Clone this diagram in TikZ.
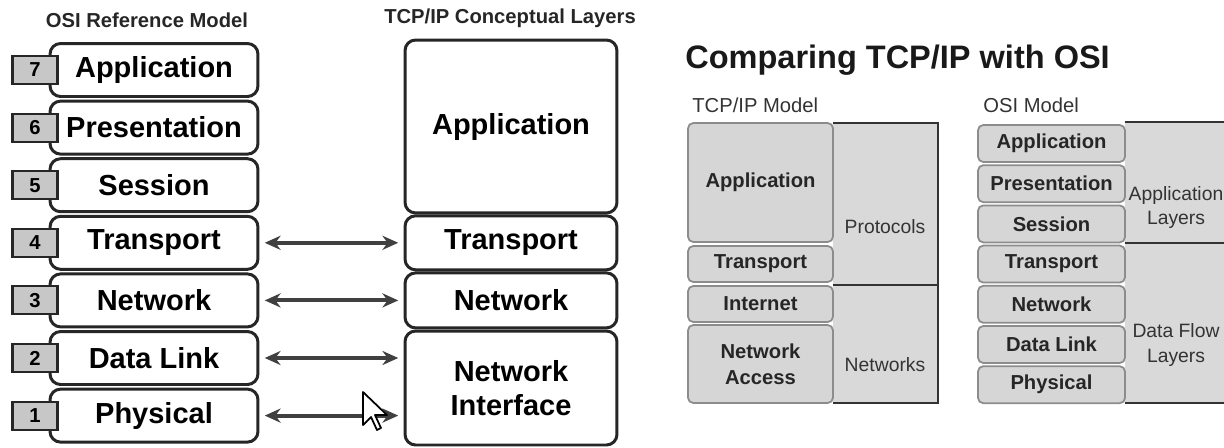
\documentclass[tikz,border=0pt]{standalone}
\usepackage{fontspec}
\setmainfont{Liberation Sans}
\usepackage{tikz}
\usetikzlibrary{shapes}
\usetikzlibrary{arrows.meta}
\usetikzlibrary{positioning}

\begin{document}
\begin{tikzpicture}[x=0.02cm,y=-0.02cm]
			\tikzset{osibox/.style = {shape=rectangle,draw=black!85,fill=white,line width=1.7pt,
					rounded corners=6pt,minimum width=4.16cm,minimum height=1.06cm,
					inner sep=0pt,align=center,font=\fontsize{16.5}{19}\selectfont\bfseries}}
			\tikzset{tcpbox/.style = {osibox,minimum width=4.24cm}}
			\tikzset{numbox/.style = {shape=rectangle,draw=black!85,fill=black!22,line width=1.2pt,
					minimum width=0.9cm,minimum height=0.56cm,inner sep=0pt,
					font=\fontsize{11.5}{13}\selectfont\bfseries}}
			\tikzset{title/.style = {font=\fontsize{11.5}{13}\selectfont\bfseries,text=black!85}}
			\tikzset{arr/.style = {<->,>={Stealth[length=9pt,width=8pt]},line width=2.2pt,draw=black!75,
					shorten <=3pt,shorten >=3pt}}
			\tikzset{tbox/.style = {shape=rectangle,rounded corners=3pt,fill=black!16,draw=black!45,
					line width=1pt,minimum width=2.9cm,inner sep=0pt,align=center,text=black!85,
					font=\fontsize{11.5}{15}\selectfont\bfseries}}
			\tikzset{obox/.style = {tbox,minimum width=2.94cm,minimum height=0.74cm}}
			\tikzset{colbox/.style = {shape=rectangle,fill=black!15,draw=none,inner sep=0pt}}
			\tikzset{coltext/.style = {align=center,text=black!80,font=\fontsize{11}{14}\selectfont}}
			\tikzset{frame/.style = {line width=1.2pt,draw=black!80}}
			
			\clip (0,0) rectangle (1224,447);
			
			% OSI reference model
			\node[title] (osititle) at (147,20) {OSI Reference Model};
			\node[osibox] (osi7) at  (154,70) {Application};
			\node[osibox] (osi6) at  (154,127.6) {Presentation};
			\node[osibox] (osi5) at  (154,185.2) {Session};
			\node[osibox] (osi4) at  (154,242.8) {Transport};
			\node[osibox] (osi3) at  (154,300.4) {Network};
			\node[osibox] (osi2) at  (154,358) {Data Link};
			\node[osibox] (osi1) at  (154,415.6) {Physical};
			
			\node[numbox] (n7) at (35,70) {7};
			\node[numbox] (n6) at (35,127.6) {6};
			\node[numbox] (n5) at (35,185.2) {5};
			\node[numbox] (n4) at (35,242.8) {4};
			\node[numbox] (n3) at (35,300.4) {3};
			\node[numbox] (n2) at (35,358) {2};
			\node[numbox] (n1) at (35,415.6) {1};
			
			% TCP/IP conceptual layers
			\node[title] (tcptitle) at (510,18) {TCP/IP Conceptual Layers};
			\node[tcpbox, minimum height=3.46cm] (tcpapp) at (511,126.5) {Application};
			\node[tcpbox, minimum height=1.08cm] (tcptr) at (511,242.8) {Transport};
			\node[tcpbox, minimum height=1.1cm] (tcpnet) at (511,300.4) {Network};
			\node[tcpbox, minimum height=2.28cm] (tcpnif) at (511,388) {Network\\Interface};
			
			%edges
			\draw[arr] (osi4.east) -- (tcptr.west);
			\draw[arr] (osi3.east) -- (tcpnet.west);
			\draw[arr] (osi2.east) -- (osi2.east -| tcpnif.west);
			\draw[arr] (osi1.east) -- (osi1.east -| tcpnif.west);
			
			% mouse pointer
			\draw[fill=white,line width=1pt,line join=round] (363,392) -- (363,425) -- (371,417)
				-- (377,430) -- (381,428) -- (375,415) -- (387,415) -- cycle;
			
			% comparing tcp/ip with osi
			\node[anchor=base west,inner sep=0pt,font=\fontsize{18.5}{20}\selectfont\bfseries,text=black!90]
				(maintitle) at (685,68) {Comparing TCP/IP with OSI};
			\node[anchor=base west,inner sep=0pt,font=\fontsize{11.5}{13}\selectfont,text=black!80]
				(tcpmodel) at (692,112) {TCP/IP Model};
			\node[anchor=base west,inner sep=0pt,font=\fontsize{11.5}{13}\selectfont,text=black!80]
				(osimodel) at (983,112) {OSI Model};
			
			% tcp/ip model table
			\node[colbox, minimum width=2.1cm, minimum height=3.24cm] (prot) at (885.5,204) {};
			\node[colbox, minimum width=2.1cm, minimum height=2.36cm] (nets) at (885.5,344) {};
			\draw[frame] (prot.north west) -- (prot.north east) -- (nets.south east) -- (nets.south west);
			\draw[frame] (prot.south west) -- (prot.south east);
			\node[coltext] (prottxt) at (885,227) {Protocols};
			\node[coltext] (netstxt) at (885,365) {Networks};
			
			\node[tbox, minimum height=2.38cm] (tapp) at (760.5,182.5) {Application};
			\node[tbox, minimum height=0.72cm] (ttr) at (760.5,264) {Transport};
			\node[tbox, minimum height=0.72cm] (tint) at (760.5,304) {Internet};
			\node[tbox, minimum height=1.56cm] (tna) at (760.5,364) {Network\\Access};
			
			% osi model table
			\node[colbox, minimum width=2.04cm, minimum height=2.42cm] (applay) at (1176,182.5) {};
			\node[colbox, minimum width=2.04cm, minimum height=3.2cm] (dflow) at (1176,323) {};
			\draw[frame] (applay.north west) -- (applay.north east);
			\draw[frame] (applay.south west) -- (applay.south east);
			\draw[frame] (dflow.south west) -- (dflow.south east);
			\node[coltext] (applaytxt) at (1176,207.5) {Application\\Layers};
			\node[coltext] (dflowtxt) at (1176,345) {Data Flow\\Layers};
			
			\node[obox] (o7) at (1051.5,143.5) {Application};
			\node[obox] (o6) at (1051.5,183.7) {Presentation};
			\node[obox] (o5) at (1051.5,223.9) {Session};
			\node[obox] (o4) at (1051.5,264.1) {Transport};
			\node[obox] (o3) at (1051.5,304.3) {Network};
			\node[obox] (o2) at (1051.5,344.5) {Data Link};
			\node[obox] (o1) at (1051.5,384.7) {Physical};
			
\end{tikzpicture}
\end{document}
